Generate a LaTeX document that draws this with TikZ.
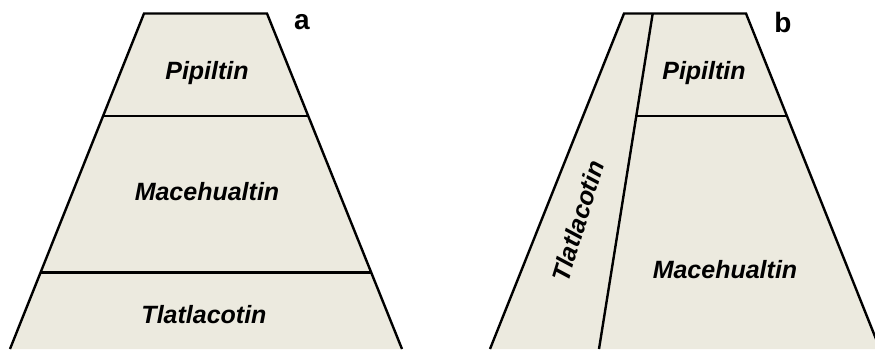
\documentclass[tikz,border=0pt]{standalone}
\usepackage{fontspec}
\setmainfont{Liberation Sans}
\definecolor{beige}{HTML}{ECEADF}
\begin{document}
\begin{tikzpicture}[x=1pt,y=-1pt,
  edge/.style={draw=black,line width=2.4pt},
  lab/.style={font=\fontsize{25}{28}\selectfont\bfseries\itshape,inner sep=0pt},
  tag/.style={font=\fontsize{28}{30}\selectfont\bfseries,inner sep=0pt}]
\useasboundingbox (0,0) rectangle (875,349);
\clip (0,0) rectangle (875,349);
% panel a
\fill[beige] (10,349) -- (144,13.5) -- (267,13.5) -- (402,349) -- cycle;
\draw[edge] (10,349) -- (144,13.5) -- (267,13.5) -- (402,349);
\draw[edge] (103.3,115.7) -- (308.2,115.7);
\draw[edge] (40.8,272.5) -- (371,272.5);
\node[lab] (pa) at (207,73) {Pipiltin};
\node[lab] (ma) at (207,192) {Macehualtin};
\node[lab] (ta) at (204,315) {Tlatlacotin};
\node[tag] (a) at (302,22) {a};
% panel b
\fill[beige] (490,349) -- (624,13.5) -- (746,13.5) -- (880,349) -- cycle;
\draw[edge] (490,349) -- (624,13.5) -- (746,13.5) -- (880,349);
\draw[edge] (652.7,13.5) -- (599,349);
\draw[edge] (636.3,115.7) -- (787,115.7);
\node[lab] (pb) at (704,73) {Pipiltin};
\node[lab] (mb) at (725,270) {Macehualtin};
\node[lab,rotate=73] (tb) at (578,221) {Tlatlacotin};
\node[tag] (b) at (783,22) {b};
\end{tikzpicture}
\end{document}
